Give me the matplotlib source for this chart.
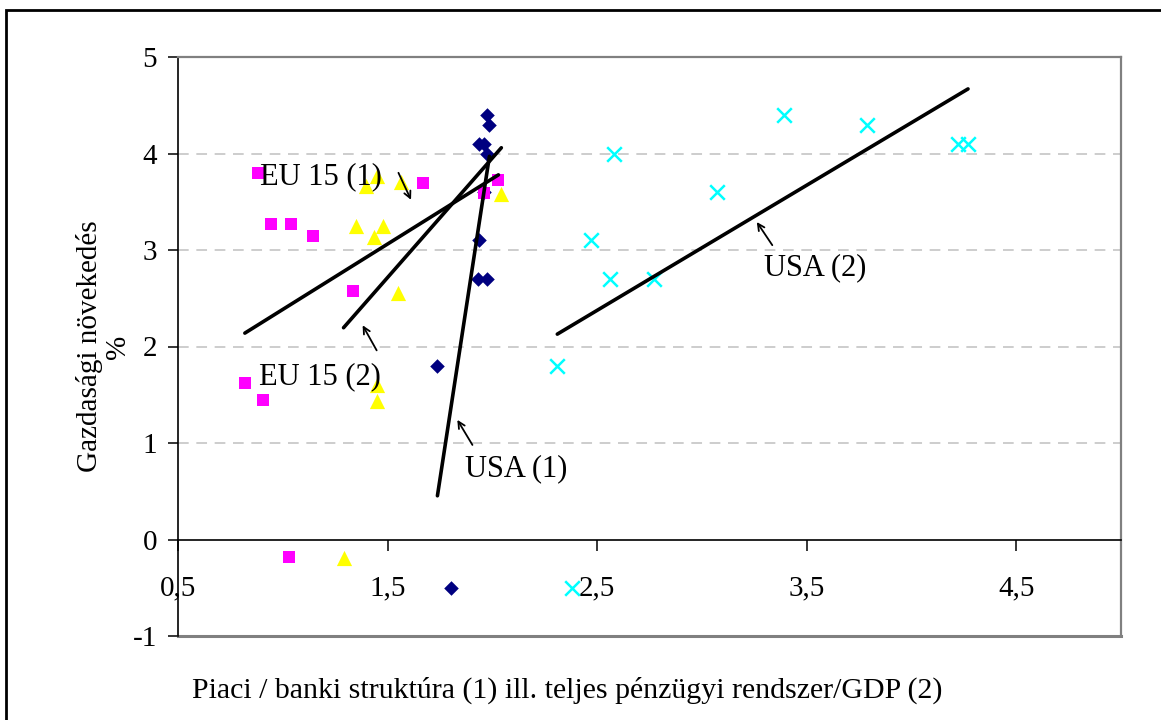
import matplotlib
matplotlib.use("Agg")
import matplotlib.pyplot as plt
import matplotlib.patches as patches
import numpy as np

plt.rcParams['font.family'] = ['Liberation Serif', 'DejaVu Serif']
plt.rcParams['axes.unicode_minus'] = False

# growth (%) shared by the two USA series and by the two EU 15 series
usa_growth = [4.4, 4.3, 4.1, 4.1, 4.0, 3.6, 3.1, 2.7, 2.7, 1.8, -0.5]
eu_growth_1 = [3.8, 3.27, 3.27, 3.14, 3.69, 2.57, 3.73, 3.59, 1.62, 1.45, -0.18]
eu_growth_2 = [3.77, 3.25, 3.25, 3.13, 3.70, 2.55, 3.66, 3.58, 1.60, 1.44, -0.19]

# market/bank structure (1) and total financial system/GDP (2)
usa_x1 = [1.976, 1.986, 1.938, 1.962, 1.976, 1.96, 1.938, 1.93, 1.976, 1.738, 1.805]
usa_x2 = [3.39, 3.79, 4.22, 4.27, 2.58, 3.07, 2.47, 2.56, 2.77, 2.31, 2.38]
eu_x1 = [0.881, 0.943, 1.038, 1.143, 1.667, 1.333, 2.029, 1.962, 0.819, 0.905, 1.029]
eu_x2 = [1.448, 1.348, 1.476, 1.433, 1.562, 1.552, 1.395, 2.043, 1.452, 1.452, 1.29]

x_ticks = [0.5, 1.5, 2.5, 3.5, 4.5]
x_tick_labels = ["0,5", "1,5", "2,5", "3,5", "4,5"]
y_ticks = [-1, 0, 1, 2, 3, 4, 5]


def trend(ax, x, y):
    # linear trendline from min x to max x, like Excel
    k, b = np.polyfit(x, y, 1)
    xs = np.array([min(x), max(x)])
    ax.plot(xs, k * xs + b, color='black', lw=2.6, zorder=5, solid_capstyle='round')


fig = plt.figure(figsize=(11.61, 7.2), dpi=100)
ax = fig.add_axes([178 / 1161, 84 / 720, 943 / 1161, 579 / 720])

ax.scatter(usa_x1, usa_growth, marker='D', s=55, color='#000080', zorder=3, linewidths=0)
ax.scatter(eu_x1, eu_growth_1, marker='s', s=85, color='#FF00FF', zorder=3, linewidths=0)
ax.scatter(eu_x2, eu_growth_2, marker='^', s=120, color='#FFFF00', zorder=3, linewidths=0)
ax.scatter(usa_x2, usa_growth, marker='x', s=110, color='#00FFFF', zorder=3, linewidths=1.8)

trend(ax, usa_x1, usa_growth)
trend(ax, eu_x1, eu_growth_1)
trend(ax, eu_x2, eu_growth_2)
trend(ax, usa_x2, usa_growth)

# labels with small arrows
notes = [
    ("EU 15 (1)", (1.18, 3.76), (1.552, 3.80), (1.612, 3.52)),
    ("EU 15 (2)", (1.176, 1.69), (1.448, 1.96), (1.381, 2.22)),
    ("USA (1)", (2.114, 0.73), (1.905, 0.98), (1.833, 1.24)),
    ("USA (2)", (3.543, 2.82), (3.336, 3.05), (3.262, 3.29)),
]
for txt, pos, tail, head in notes:
    ax.text(pos[0], pos[1], txt, ha='center', va='center', fontsize=22, zorder=6)
    ax.annotate("", xy=head, xytext=tail,
                arrowprops=dict(arrowstyle="->", lw=1.3, color='black',
                                shrinkA=0, shrinkB=0, mutation_scale=12), zorder=6)

ax.set_xlim(0.5, 5)
ax.set_ylim(-1, 5)
ax.set_xticks(x_ticks)
ax.set_xticklabels(x_tick_labels)
ax.set_yticks(y_ticks)

for yv in [1, 2, 3, 4]:
    ax.axhline(yv, color='#c0c0c0', lw=1.1, ls=(0, (7, 5)), zorder=1)

ax.spines['bottom'].set_position(('data', 0))
ax.spines['bottom'].set_color('black')
ax.spines['bottom'].set_linewidth(1.2)
ax.spines['left'].set_color('black')
ax.spines['left'].set_linewidth(1.2)
for s in ['top', 'right']:
    ax.spines[s].set_color('#808080')
    ax.spines[s].set_linewidth(1.6)
# plot area bottom border at y = -1
ax.axhline(-1, color='#808080', lw=2.2, zorder=2, clip_on=False)

ax.tick_params(axis='x', direction='out', length=8, width=1.1, labelsize=21, pad=18)
ax.tick_params(axis='y', direction='out', length=7, width=1.1, labelsize=21, pad=8)

fig.text(567 / 1161, 1 - 690 / 720,
         "Piaci / banki struktúra (1) ill. teljes pénzügyi rendszer/GDP (2)",
         ha='center', va='center', fontsize=21.5)
ax.set_ylabel("Gazdasági növekedés\n%", fontsize=21, linespacing=1.1)
ax.yaxis.set_label_coords(-0.05, 0.5)

# outer chart frame
fig.patches.append(patches.Rectangle((6 / 1161, -0.05), 1.05, 1 - 10 / 720 + 0.05,
                                     transform=fig.transFigure, fill=False,
                                     edgecolor='black', lw=2))

fig.savefig('out.png', dpi=100)
